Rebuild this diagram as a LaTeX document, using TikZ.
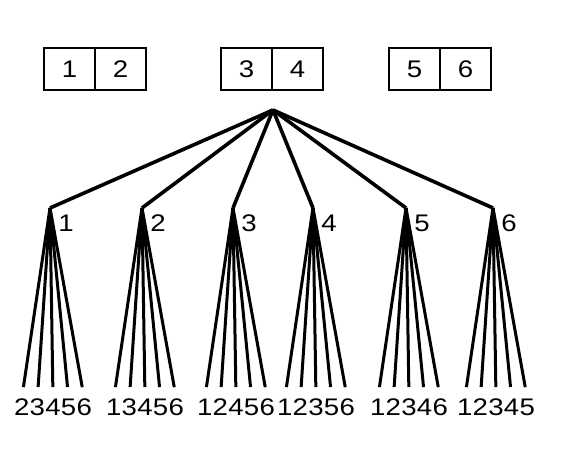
\documentclass[tikz,border=0pt]{standalone}
\usepackage{fontspec}
\setmainfont{Liberation Sans}
\usepackage{graphicx}
\usetikzlibrary{positioning}
\newcommand{\wide}[1]{\scalebox{1.15}[1]{#1}}

\begin{document}
\begin{tikzpicture}[
    x=1pt, y=-1pt,
    font=\fontsize{24}{28}\selectfont,
    cell/.style={
        draw,
        line width=2.6pt,
        minimum width=51pt,
        minimum height=42pt,
        inner sep=0pt,
        outer sep=0pt
    },
    leaf/.style={inner sep=0pt, text height=17pt, text depth=0pt, anchor=north},
    tlabel/.style={inner sep=0pt},
    edge/.style={line width=3.6pt, line join=round},
    twig/.style={line width=3pt, shorten >=11pt}
]
\useasboundingbox (0,0) rectangle (567,452);

% Pairs on top
\node[cell] (c1) at (69.5,69) {\wide{1}};
\node[cell, right=0pt of c1] (c2) {\wide{2}};
\node[cell] (c3) at (246.5,69) {\wide{3}};
\node[cell, right=0pt of c3] (c4) {\wide{4}};
\node[cell] (c5) at (414.5,69) {\wide{5}};
\node[cell, right=0pt of c5] (c6) {\wide{6}};

% Root and the six subtrees
\coordinate (root) at (273,110);
\foreach \k/\ax/\digits in {1/50/{2,3,4,5,6}, 2/142/{1,3,4,5,6}, 3/233/{1,2,4,5,6},
                            4/313/{1,2,3,5,6}, 5/406/{1,2,3,4,6}, 6/493/{1,2,3,4,5}}{
  \coordinate (a\k) at (\ax,208);
  \node[tlabel] (n\k) at (\ax+16,223) {\wide{\k}};
  \draw[edge] (root) -- (a\k);
  \foreach \d [count=\i from -2] in \digits {
    \node[leaf] (l\k\d) at (\ax+3+\i*15.6,398) {\wide{\d}};
    \draw[twig] (a\k) -- (l\k\d.north);
  }
}

\end{tikzpicture}
\end{document}
